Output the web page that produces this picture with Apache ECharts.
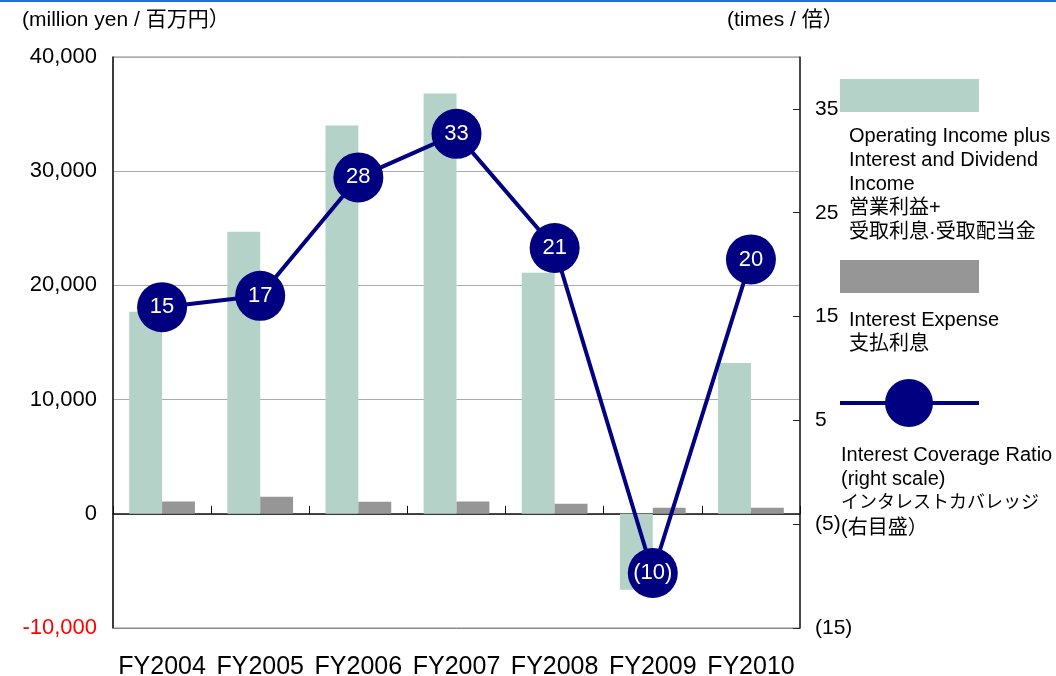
<!DOCTYPE html>
<html>
<head>
<meta charset="utf-8">
<script src="https://cdn.jsdelivr.net/npm/echarts@6/dist/echarts.min.js"></script>
<style>
  html, body { margin: 0; padding: 0; background: #fff; }
  #chart { width: 1056px; height: 676px; }
</style>
</head>
<body>
<div id="chart"></div>
<script>
// chart data
const years = ['FY2004', 'FY2005', 'FY2006', 'FY2007', 'FY2008', 'FY2009', 'FY2010']
const opIncome = [17700, 24700, 34000, 36800, 21100, -6650, 13200]   // million yen
const interestExp = [1080, 1490, 1050, 1080, 880, 530, 530]          // million yen
const coverage = [15.9, 17.0, 28.4, 32.6, 21.6, -9.7, 20.5]          // times
const coverageLabels = ['15', '17', '28', '33', '21', '(10)', '20']
const rightTicks = [-15, -5, 5, 15, 25, 35]

const FONT = '"Liberation Sans", Arial, "Noto Sans CJK JP", sans-serif'
const TEAL = '#b5d2c9'
const GREY = '#969696'
const NAVY = '#000080'

const chart = echarts.init(document.getElementById('chart'))

chart.setOption({
  backgroundColor: '#fff',
  animation: false,
  textStyle: { fontFamily: FONT },
  grid: {
    left: 113, right: 256, top: 57, bottom: 48,
    outerBoundsMode: 'none',
    show: true, borderColor: '#888', borderWidth: 1
  },
  xAxis: [
    {
      type: 'category',
      data: years,
      axisLine: { onZero: true, lineStyle: { color: '#111', width: 1.5 } },
      axisTick: { show: true, inside: true, length: 8, lineStyle: { color: '#111' } },
      axisLabel: { show: false }
    },
    {
      type: 'category',
      data: years,
      position: 'bottom',
      axisLine: { onZero: false, lineStyle: { color: '#888', width: 1 } },
      axisTick: { show: false },
      axisLabel: { interval: 0, fontSize: 25, color: '#000', margin: 27, fontFamily: FONT }
    }
  ],
  yAxis: [
    {
      type: 'value',
      min: -10000, max: 40000, interval: 10000,
      axisLine: { show: true, lineStyle: { color: '#111', width: 1.5 } },
      axisTick: { show: false },
      splitLine: { lineStyle: { color: '#aaa', width: 1 } },
      axisLabel: {
        fontSize: 22, margin: 16, fontFamily: FONT,
        color: (v) => (Number(v) < 0 ? '#ff0000' : '#000'),
        formatter: (v) => v.toLocaleString('en-US')
      }
    },
    {
      type: 'value',
      position: 'right',
      min: -15, max: 40,
      axisLine: { show: true, lineStyle: { color: '#222', width: 1.5 } },
      axisTick: { show: true, inside: true, length: 7, customValues: rightTicks, lineStyle: { color: '#222' } },
      splitLine: { show: false },
      axisLabel: {
        fontSize: 21, margin: 15, color: '#000', fontFamily: FONT,
        customValues: rightTicks,
        formatter: (v) => (v < 0 ? '(' + (-v) + ')' : String(v))
      }
    }
  ],
  series: [
    {
      name: 'Operating Income plus Interest and Dividend Income',
      type: 'bar',
      data: opIncome,
      itemStyle: { color: TEAL },
      barGap: '0%',
      barCategoryGap: '33%'
    },
    {
      name: 'Interest Expense',
      type: 'bar',
      data: interestExp,
      itemStyle: { color: GREY },
      barGap: '0%',
      barCategoryGap: '33%'
    },
    {
      name: 'Interest Coverage Ratio',
      type: 'line',
      yAxisIndex: 1,
      data: coverage,
      symbol: 'circle',
      symbolSize: 50,
      z: 5,
      lineStyle: { color: NAVY, width: 4 },
      itemStyle: { color: NAVY },
      label: {
        show: true, position: 'inside', color: '#fff', fontSize: 22, fontFamily: FONT,
        formatter: (p) => coverageLabels[p.dataIndex]
      }
    }
  ],
  graphic: [
    { type: 'rect', left: 0, top: 0, shape: { width: 1056, height: 2 }, style: { fill: '#1f6fd4' } },
    { type: 'text', left: 22, top: 10, style: { text: '(million yen / 百万円）', font: '21px ' + FONT, fill: '#000' } },
    { type: 'text', left: 727, top: 10, style: { text: '(times / 倍）', font: '21px ' + FONT, fill: '#000' } },
    // legend
    { type: 'rect', left: 840, top: 79, shape: { width: 139, height: 33 }, style: { fill: TEAL } },
    { type: 'text', left: 849, top: 124, style: {
      text: 'Operating Income plus\nInterest and Dividend\nIncome\n営業利益+\n受取利息·受取配当金',
      font: '20px ' + FONT, lineHeight: 24, fill: '#000' } },
    { type: 'rect', left: 840, top: 260, shape: { width: 139, height: 33 }, style: { fill: GREY } },
    { type: 'text', left: 849, top: 308, style: {
      text: 'Interest Expense\n支払利息', font: '20px ' + FONT, lineHeight: 24, fill: '#000' } },
    { type: 'line', shape: { x1: 840, y1: 403, x2: 979, y2: 403 }, style: { stroke: NAVY, lineWidth: 4 } },
    { type: 'circle', shape: { cx: 909, cy: 403, r: 24 }, style: { fill: NAVY } },
    { type: 'text', left: 841, top: 443, style: {
      text: 'Interest Coverage Ratio\n(right scale)', font: '20px ' + FONT, lineHeight: 24, fill: '#000' } },
    { type: 'text', left: 841, top: 491, style: {
      text: 'インタレストカバレッジ', font: '18px ' + FONT, lineHeight: 24, fill: '#000' } },
    { type: 'text', left: 841, top: 516, style: {
      text: '(右目盛）', font: '20px ' + FONT, lineHeight: 24, fill: '#000' } }
  ]
})
</script>
</body>
</html>
